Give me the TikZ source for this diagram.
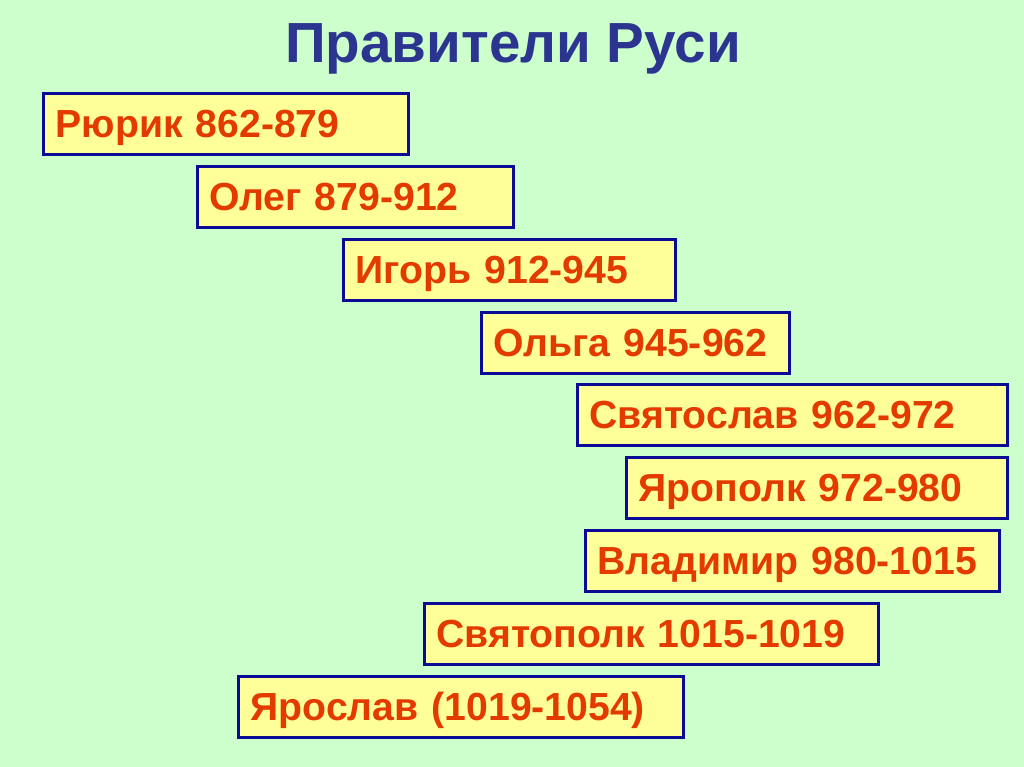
\documentclass[tikz,border=0pt]{standalone}
\usepackage{fontspec}
\setmainfont{Liberation Sans}
\definecolor{bgreen}{HTML}{CCFFCC}
\definecolor{byellow}{HTML}{FFFF99}
\definecolor{bnavy}{HTML}{0A0A96}
\definecolor{rorange}{HTML}{E33A00}
\definecolor{tblue}{HTML}{2B3590}
\usetikzlibrary{positioning}

\begin{document}
\begin{tikzpicture}[
        x=0.02cm, y=-0.02cm,
        ruler/.style={draw=bnavy, line width=1.7pt, fill=byellow, anchor=north west,
            minimum height=1.22cm, inner xsep=0.24cm, align=left,
            text height=0.56cm, text depth=0cm,
            text=rorange, font=\fontsize{22.3}{24}\selectfont\bfseries},
    ]
    \fill[bgreen] (0,0) rectangle (1024,767);
    \useasboundingbox (0,0) rectangle (1024,767);
    \node[text=tblue, font=\fontsize{32.2}{34}\selectfont\bfseries] (title) at (513,49) {Правители Руси};
    % boxes, one for each ruler
    \node[ruler, text width=6.82cm] (rurik) at (42,92) {Рюрик 862-879};
    \node[ruler, text width=5.84cm] (oleg) at (196,165) {Олег 879-912};
    \node[ruler, text width=6.16cm] (igor) at (342,238) {Игорь 912-945};
    \node[ruler, text width=5.68cm] (olga) at (480,311) {Ольга 945-962};
    \node[ruler, text width=8.12cm] (svyatoslav) at (576,383) {Святослав 962-972};
    \node[ruler, text width=7.14cm] (yaropolk) at (625,456) {Ярополк 972-980};
    \node[ruler, text width=7.80cm] (vladimir) at (584,529) {Владимир 980-1015};
    \node[ruler, text width=8.60cm] (svyatopolk) at (423,602) {Святополк 1015-1019};
    \node[ruler, text width=8.42cm] (yaroslav) at (237,675) {Ярослав (1019-1054)};
\end{tikzpicture}
\end{document}
